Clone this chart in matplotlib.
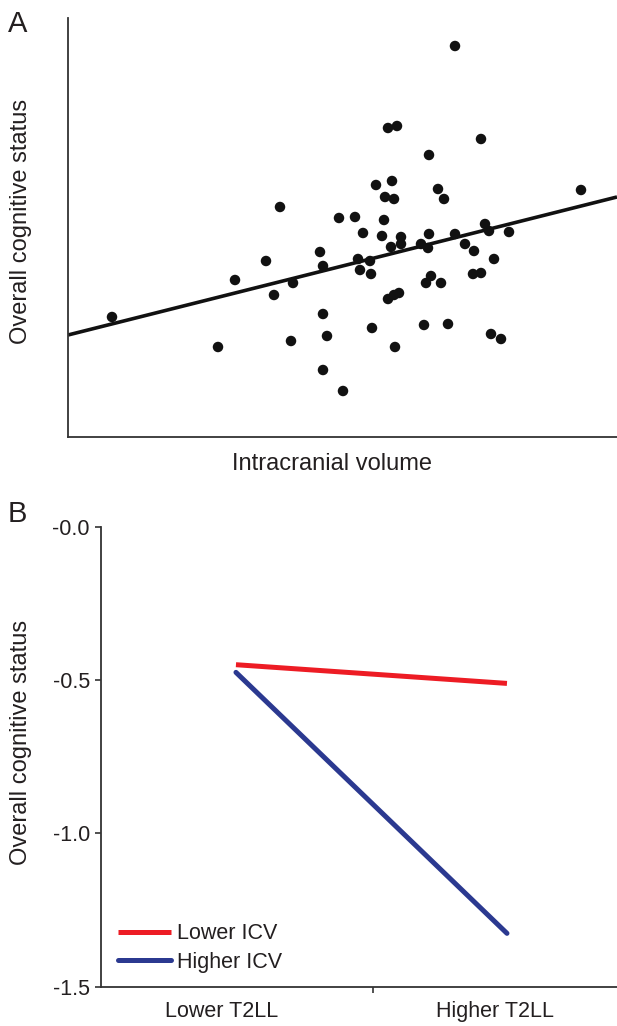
import matplotlib
matplotlib.use("Agg")
import matplotlib.pyplot as plt
import numpy as np

plt.rcParams['font.family'] = ['Liberation Sans', 'DejaVu Sans']
TXT = '#231f20'

# ---------------- Panel A data (arbitrary units) ----------------
icv = [212, 271, 287, 316, 295, 314, 333, 323, 333, 353, 361, 360, 387, 397, 406,
       417, 421, 441, 426, 405, 413, 252, 255, 290, 302, 292, 303, 198, 167, 225,
       206, 363, 358, 373, 320, 326, 331, 44, 255, 259, 223, 150, 304, 327, 356,
       380, 423, 433, 255, 275, 387, 320, 329, 413, 361, 308, 324, 370, 317, 326,
       376, 513]
cog = [230, 219, 220, 217, 204, 201, 200, 190, 193, 193, 203, 189, 203, 193, 186,
       213, 206, 205, 178, 163, 164, 185, 171, 178, 176, 167, 163, 176, 157, 154,
       142, 161, 154, 154, 138, 142, 144, 120, 123, 101, 96, 90, 109, 90, 112,
       113, 103, 98, 67, 46, 391, 309, 311, 298, 282, 252, 256, 248, 240, 238,
       238, 247]
fit_intercept = 102.0
fit_slope = 0.2514

# ---------------- Panel B data ----------------
t2ll_pos = [0, 1]
t2ll_labels = ['Lower T2LL', 'Higher T2LL']
lower_icv = [-0.45, -0.511]
higher_icv = [-0.475, -1.326]
y_ticks = [0.0, -0.5, -1.0, -1.5]
y_ticklabels = ['-0.0', '-0.5', '-1.0', '-1.5']

W, H = 617, 1026
fig = plt.figure(figsize=(W / 100, H / 100), dpi=100)

# ---------------- Panel A ----------------
axA = fig.add_axes([68 / W, 1 - 437 / H, (617 - 68) / W, (437 - 18) / H])
axA.scatter(icv, cog, s=57, color='#111111', edgecolors='none', zorder=3)
xx = np.array([0, 549])
axA.plot(xx, fit_intercept + fit_slope * xx, color='#111111', lw=2.6,
         solid_capstyle='butt', zorder=2)
axA.set_xlim(0, 549)
axA.set_ylim(0, 419)
axA.set_xticks([])
axA.set_yticks([])
for s in ['top', 'right']:
    axA.spines[s].set_visible(False)
for s in ['left', 'bottom']:
    axA.spines[s].set_color('#333333')
    axA.spines[s].set_linewidth(1.3)
axA.set_xlabel('Intracranial volume', fontsize=17, color=TXT)
axA.xaxis.set_label_coords(0.481, -0.038)
axA.xaxis.label.set_va('top')
axA.set_ylabel('Overall cognitive status', fontsize=17, color=TXT)
axA.yaxis.set_label_coords(-0.066, 0.515)

# ---------------- Panel B ----------------
axB = fig.add_axes([101 / W, 1 - 986.7 / H, (617 - 101) / W, (986.7 - 526.7) / H])
axB.plot(t2ll_pos, lower_icv, color='#ed1c24', lw=3.6, solid_capstyle='butt',
         label='Lower ICV')
axB.plot(t2ll_pos, higher_icv, color='#2b3990', lw=3.6, solid_capstyle='round',
         label='Higher ICV')
axB.set_xlim(-0.498, 1.406)
axB.set_ylim(-1.5, 0.0)
axB.set_yticks(y_ticks)
axB.set_yticklabels(y_ticklabels)
axB.set_xticks([0.506])
axB.set_xticklabels([''])
axB.set_xticks([-0.052, 0.956], minor=True)
axB.set_xticklabels(t2ll_labels, minor=True)
axB.tick_params(axis='x', which='minor', length=0, pad=10, labelsize=15.5,
                labelcolor=TXT)
axB.tick_params(axis='x', which='major', length=4, width=1.2, color='#333333',
                direction='out')
axB.tick_params(axis='y', length=4, width=1.2, color='#333333', pad=4,
                labelsize=15.5, labelcolor=TXT)
for s in ['top', 'right']:
    axB.spines[s].set_visible(False)
for s in ['left', 'bottom']:
    axB.spines[s].set_color('#333333')
    axB.spines[s].set_linewidth(1.3)
for s in ['left', 'bottom']:
    axB.spines[s].set_clip_on(False)
axB.set_ylabel('Overall cognitive status', fontsize=17, color=TXT)
axB.yaxis.set_label_coords(-0.134, 0.532)

leg = axB.legend(loc='center left', bbox_to_anchor=(0.033, 0.0837), frameon=False,
                 fontsize=15.5, handlelength=2.45, handletextpad=0.3,
                 labelspacing=0.35, borderpad=0, borderaxespad=0)
for t in leg.get_texts():
    t.set_color(TXT)

fig.text(8 / W, 1 - 32 / H, 'A', fontsize=21, color=TXT, va='baseline', ha='left')
fig.text(8 / W, 1 - 522 / H, 'B', fontsize=21, color=TXT, va='baseline', ha='left')

fig.savefig('out.png', dpi=100)
